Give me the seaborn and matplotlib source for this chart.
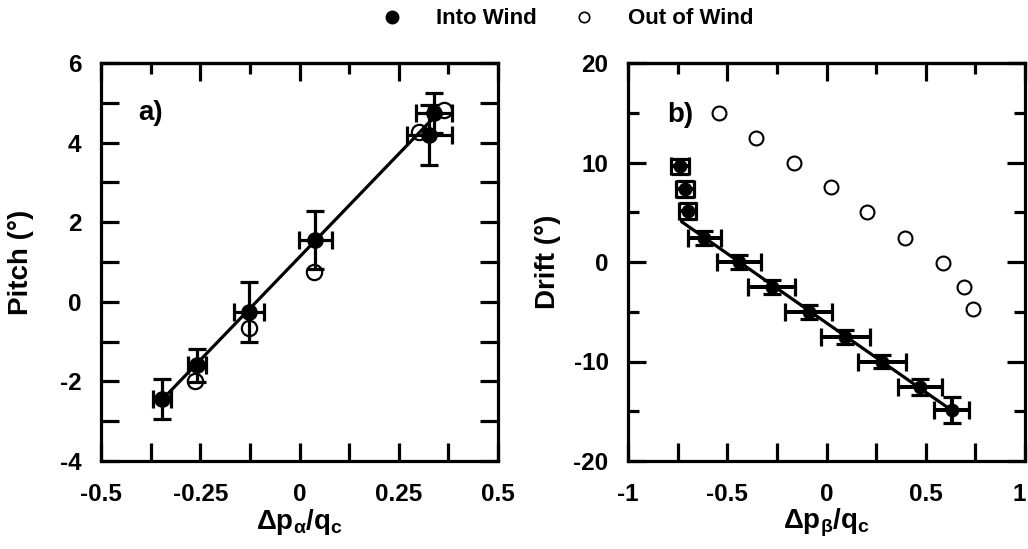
import numpy as np
import pandas as pd
import matplotlib
matplotlib.use("Agg")
import matplotlib.pyplot as plt
import matplotlib.transforms as mtransforms
from matplotlib.lines import Line2D
import seaborn as sns

# ---------------- data ----------------
# panel a) pitch vs delta p_alpha / q_c
a_in_x = [-0.347, -0.258, -0.128, 0.040, 0.327, 0.339]
a_in_y = [-2.45, -1.60, -0.25, 1.55, 4.19, 4.74]
a_in_xerr = [0.023, 0.023, 0.038, 0.041, 0.057, 0.045]
a_in_yerr = [0.50, 0.42, 0.75, 0.73, 0.75, 0.50]
a_out_x = [-0.263, -0.128, 0.036, 0.301, 0.364]
a_out_y = [-2.00, -0.67, 0.76, 4.27, 4.82]
a_fit_x = [-0.350, 0.345]
a_fit_y = [-2.50, 4.70]

# panel b) drift vs delta p_beta / q_c
b_in_x = [-0.740, -0.715, -0.700, -0.615, -0.440, -0.275, -0.090, 0.095, 0.280, 0.470, 0.630]
b_in_y = [9.6, 7.3, 5.1, 2.4, 0.0, -2.5, -5.0, -7.5, -10.0, -12.6, -14.9]
b_in_xerr = [0.045, 0.045, 0.045, 0.085, 0.110, 0.118, 0.120, 0.125, 0.120, 0.110, 0.090]
b_in_yerr = [0.8, 0.8, 0.8, 0.7, 0.7, 0.7, 0.7, 0.7, 0.7, 0.8, 1.3]
b_out_x = [-0.540, -0.353, -0.165, 0.022, 0.205, 0.393, 0.585, 0.693, 0.740]
b_out_y = [15.0, 12.45, 9.95, 7.5, 5.0, 2.4, -0.1, -2.5, -4.75]
b_fit_x = [-0.730, 0.630]
b_fit_y = [4.05, -14.90]

a_xticks = [-0.5, -0.25, 0, 0.25, 0.5]
a_xtick_labels = ["-0.5", "-0.25", "0", "0.25", "0.5"]
a_xminor = [-0.375, -0.125, 0.125, 0.375]
a_yticks = [-4, -2, 0, 2, 4, 6]
a_yminor = [-3, -1, 1, 3, 5]
b_xticks = [-1, -0.5, 0, 0.5, 1]
b_xtick_labels = ["-1", "-0.5", "0", "0.5", "1"]
b_xminor = [-0.75, -0.25, 0.25, 0.75]
b_yticks = [-20, -10, 0, 10, 20]
b_yminor = [-15, -5, 5, 15]

# ---------------- style ----------------
sns.set_theme(style="ticks")
plt.rcParams["font.family"] = ["Liberation Sans", "DejaVu Sans"]
plt.rcParams["font.weight"] = "bold"
plt.rcParams["axes.unicode_minus"] = False
plt.rcParams["text.color"] = "black"
plt.rcParams["axes.labelcolor"] = "black"
plt.rcParams["xtick.color"] = "black"
plt.rcParams["ytick.color"] = "black"
plt.rcParams["axes.edgecolor"] = "black"
plt.rcParams["mathtext.fontset"] = "custom"
plt.rcParams["mathtext.rm"] = "Liberation Sans:bold"
plt.rcParams["mathtext.it"] = "Liberation Sans:bold"
plt.rcParams["mathtext.bf"] = "Liberation Sans:bold"

LW = 2.3
TICK_FS = 17.5
LABEL_FS = 20

fig = plt.figure(figsize=(10.28, 5.49), dpi=100)
ax1 = fig.add_axes([101 / 1028, 1 - 461 / 549, 397 / 1028, 398 / 549])
ax2 = fig.add_axes([628 / 1028, 1 - 461 / 549, 397 / 1028, 398 / 549])


def style_axis(ax, xticks, xlabels, xminor, yticks, yminor, xlim, ylim, ymin_long):
    ax.set_xlim(*xlim)
    ax.set_ylim(*ylim)
    for s in ax.spines.values():
        s.set_visible(True)
        s.set_linewidth(LW)
        s.set_color("black")
    ax.set_xticks(xticks)
    ax.set_xticklabels(xlabels)
    ax.set_xticks(xminor, minor=True)
    ax.set_yticks(yticks)
    ax.set_yticks(yminor, minor=True)
    ax.tick_params(which="both", direction="in", width=LW, color="black",
                   labelcolor="black", top=False, bottom=True, left=True, right=True,
                   labelsize=TICK_FS, pad=14)
    ax.tick_params(which="major", length=13)
    ax.tick_params(axis="x", which="minor", length=13)
    ax.tick_params(axis="y", which="minor", length=13 if ymin_long else 8)
    ax.tick_params(axis="x", pad=16)
    for lab in ax.get_xticklabels() + ax.get_yticklabels():
        lab.set_fontweight("bold")
    sec = ax.secondary_xaxis("top")
    sec.set_xticks(xticks)
    sec.set_xticks(xminor, minor=True)
    sec.tick_params(which="both", direction="in", width=LW, color="black", labeltop=False)
    sec.tick_params(which="major", length=13)
    sec.tick_params(which="minor", length=8)
    sec.spines["top"].set_linewidth(LW)
    sec.spines["top"].set_color("black")
    ax.grid(False)


# ---------------- panel a ----------------
df_a_out = pd.DataFrame({"x": a_out_x, "y": a_out_y})
df_a_in = pd.DataFrame({"x": a_in_x, "y": a_in_y})
sns.scatterplot(data=df_a_out, x="x", y="y", ax=ax1, marker="o", s=11 ** 2,
                facecolor="white", edgecolor="black", linewidth=1.6, zorder=2)
ax1.plot(a_fit_x, a_fit_y, color="black", lw=LW, zorder=3)
ax1.errorbar(a_in_x, a_in_y, xerr=a_in_xerr, yerr=a_in_yerr, fmt="none",
             ecolor="black", elinewidth=LW, capsize=6.5, capthick=LW, zorder=4)
sns.scatterplot(data=df_a_in, x="x", y="y", ax=ax1, marker="o", s=12 ** 2,
                color="black", linewidth=0, zorder=5)
style_axis(ax1, a_xticks, a_xtick_labels, a_xminor, a_yticks, a_yminor,
           (-0.5, 0.5), (-4, 6), True)
ax1.set_xlabel("Δp$_{α}$/q$_{c}$", fontsize=LABEL_FS, fontweight="bold")
ax1.set_ylabel("Pitch (°)", fontsize=LABEL_FS, fontweight="bold")
ax1.xaxis.set_label_coords(0.5, -0.115)
ax1.yaxis.set_label_coords(-0.17, 0.5)
ax1.text(0.093, 0.875, "a)", transform=ax1.transAxes, fontsize=20,
         fontweight="bold", ha="left", va="center")

# ---------------- panel b ----------------
df_b_out = pd.DataFrame({"x": b_out_x, "y": b_out_y})
df_b_in = pd.DataFrame({"x": b_in_x, "y": b_in_y})
sns.scatterplot(data=df_b_out, x="x", y="y", ax=ax2, marker="o", s=10 ** 2,
                facecolor="white", edgecolor="black", linewidth=1.5, zorder=2)
ax2.plot(b_fit_x, b_fit_y, color="black", lw=LW, zorder=3)
ax2.errorbar(b_in_x, b_in_y, xerr=b_in_xerr, yerr=b_in_yerr, fmt="none",
             ecolor="black", elinewidth=LW + 0.6, capsize=6.5, capthick=LW, zorder=4)
sns.scatterplot(data=df_b_in, x="x", y="y", ax=ax2, marker="o", s=10 ** 2,
                color="black", linewidth=0, zorder=5)
style_axis(ax2, b_xticks, b_xtick_labels, b_xminor, b_yticks, b_yminor,
           (-1, 1), (-20, 20), False)
# keep the last tick label "1" inside the canvas, as in the reference
last_lab = ax2.get_xticklabels()[-1]
last_lab.set_transform(last_lab.get_transform() +
                       mtransforms.ScaledTranslation(-6 / 100, 0, fig.dpi_scale_trans))
ax2.set_xlabel("Δp$_{β}$/q$_{c}$", fontsize=LABEL_FS, fontweight="bold")
ax2.set_ylabel("Drift (°)", fontsize=LABEL_FS, fontweight="bold")
ax2.xaxis.set_label_coords(0.5, -0.115)
ax2.yaxis.set_label_coords(-0.17, 0.5)
ax2.text(0.098, 0.87, "b)", transform=ax2.transAxes, fontsize=20,
         fontweight="bold", ha="left", va="center")

# ---------------- legend ----------------
handles = [
    Line2D([], [], ls="none", marker="o", markersize=9, color="black"),
    Line2D([], [], ls="none", marker="o", markersize=7.5, markerfacecolor="white",
           markeredgecolor="black", markeredgewidth=1.2),
]
fig.legend(handles, ["Into Wind", "Out of Wind"], loc="center",
           bbox_to_anchor=(567 / 1028, 1 - 19 / 549), ncol=2, frameon=False,
           prop={"size": 16, "weight": "bold"}, handlelength=1.0,
           handletextpad=1.5, columnspacing=1.6, labelcolor="black")

fig.savefig("out.png", dpi=100)
